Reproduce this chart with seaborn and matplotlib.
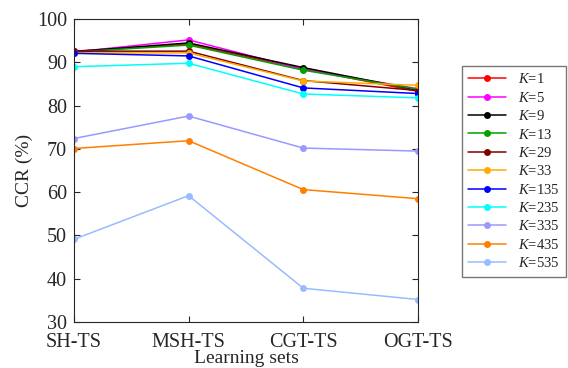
import numpy as np
import pandas as pd
import seaborn as sns
import matplotlib.pyplot as plt

sets = ['SH-TS', 'MSH-TS', 'CGT-TS', 'OGT-TS']
k_values = [1, 5, 9, 13, 29, 33, 135, 235, 335, 435, 535]

ccr = {
    1:   [92.6, 94.2, 88.5, 83.3],
    5:   [92.4, 95.2, 88.4, 83.9],
    9:   [92.5, 94.5, 88.8, 83.6],
    13:  [92.4, 94.0, 88.2, 83.8],
    29:  [92.6, 92.6, 85.8, 83.5],
    33:  [92.2, 92.2, 85.7, 84.7],
    135: [92.1, 91.5, 84.1, 82.8],
    235: [89.0, 89.8, 82.7, 81.8],
    335: [72.4, 77.6, 70.2, 69.5],
    435: [70.1, 71.9, 60.6, 58.5],
    535: [49.1, 59.2, 37.8, 35.2],
}

colors = ['#ff0000', '#ff00ff', '#000000', '#00a000', '#800000', '#ffaa00',
          '#0000ff', '#00ffff', '#9999ff', '#ff7f00', '#99bbff']

rows = []
for k in k_values:
    for i, s in enumerate(sets):
        rows.append({'set': i, 'K': '$K$=%d' % k, 'CCR': ccr[k][i]})
df = pd.DataFrame(rows)

sns.set_style('ticks')
plt.rcParams['font.family'] = ['Liberation Serif', 'DejaVu Serif']
plt.rcParams['mathtext.fontset'] = 'custom'
plt.rcParams['mathtext.it'] = 'Liberation Serif:italic'
plt.rcParams['mathtext.rm'] = 'Liberation Serif'

fig = plt.figure(figsize=(5.68, 3.68), dpi=100)
ax = fig.add_axes([0.130, 0.125, 0.606, 0.823])

sns.lineplot(data=df, x='set', y='CCR', hue='K', palette=colors,
             marker='o', markersize=5, markeredgewidth=0, linewidth=1.1,
             ax=ax, legend=True)

ax.set_xlim(0, 3)
ax.set_ylim(30, 100)
ax.set_xticks(range(4))
ax.set_xticklabels(sets)
ax.set_yticks(range(30, 101, 10))
ax.tick_params(direction='in', top=True, right=True, labelsize=14.5, length=4)
ax.tick_params(axis='x', pad=8)
ax.tick_params(axis='y', pad=5)
for sp in ax.spines.values():
    sp.set_linewidth(0.8)
ax.set_xlabel('Learning sets', fontsize=14, labelpad=-1.5)
ax.set_ylabel('CCR (%)', fontsize=14, labelpad=2.5)

h, l = ax.get_legend_handles_labels()
ax.legend_.remove()
fig.legend(h, l, loc='upper left', bbox_to_anchor=(0.813, 0.821),
           borderaxespad=0, frameon=True, fancybox=False, edgecolor='#555555',
           fontsize=10.5, handlelength=2.6, labelspacing=0.3, borderpad=0.45)

fig.savefig('out.png', dpi=100)
